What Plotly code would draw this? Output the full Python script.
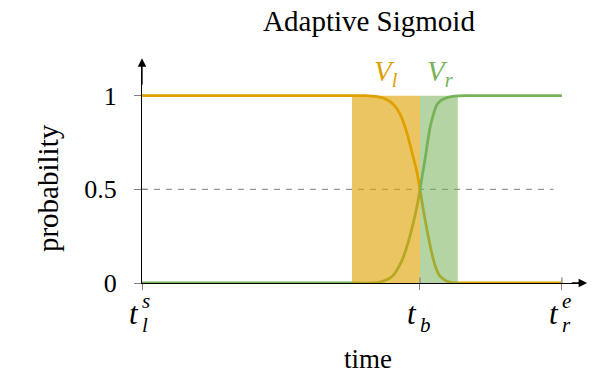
import plotly.graph_objects as go

# Time axis in arbitrary units: t_l^s = 0, t_b = 6.62, t_r^e = 10
t_start = 0.0
t_boundary = 6.62
t_end = 10.0
left_region_start = 5.0
right_region_end = 7.52

# V_l: falls from 1 to 0 across the boundary
left_t = [0.0, 4.7, 5.0, 5.3, 5.6, 5.83, 6.0, 6.15, 6.31, 6.45, 6.55, 6.62,
          6.7, 6.79, 6.9, 7.0, 7.1, 7.25, 7.4, 7.6, 10.0]
left_p = [1.0, 1.0, 1.0, 1.0, 0.995, 0.98, 0.95, 0.90, 0.80, 0.68, 0.59, 0.5,
          0.39, 0.28, 0.16, 0.08, 0.035, 0.01, 0.002, 0.0, 0.0]

# V_r: rises from 0 to 1 across the boundary
right_t = [0.0, 5.0, 5.5, 5.67, 5.85, 5.98, 6.1, 6.21, 6.33, 6.45, 6.55, 6.62,
           6.68, 6.74, 6.8, 6.86, 6.94, 7.02, 7.12, 7.26, 7.45, 7.7, 10.0]
right_p = [0.0, 0.0, 0.0, 0.005, 0.02, 0.04, 0.08, 0.13, 0.21, 0.31, 0.41, 0.5,
           0.58, 0.66, 0.75, 0.83, 0.90, 0.95, 0.975, 0.99, 0.998, 1.0, 1.0]

y_ticks = [0, 0.5, 1]
y_tick_text = ["0", "0.5", "1"]

ORANGE = "rgb(222,161,0)"
GREEN = "rgb(118,178,88)"
ORANGE_FILL = "rgba(222,161,0,0.62)"
GREEN_FILL = "rgba(118,178,88,0.55)"
FONT = "Liberation Serif"
TICK_GREY = "rgb(130,130,130)"

fig = go.Figure()
fig.add_trace(go.Scatter(x=left_t, y=left_p, mode="lines",
                         line=dict(color=ORANGE, width=2.8, shape="spline", smoothing=0.4),
                         hoverinfo="skip", showlegend=False))
fig.add_trace(go.Scatter(x=right_t, y=right_p, mode="lines",
                         line=dict(color=GREEN, width=2.8, shape="spline", smoothing=0.4),
                         hoverinfo="skip", showlegend=False))

# shaded transition regions drawn over the curves
fig.add_shape(type="rect", xref="x", yref="y", x0=left_region_start, x1=t_boundary, y0=0, y1=1,
              fillcolor=ORANGE_FILL, line_width=0, layer="above")
fig.add_shape(type="rect", xref="x", yref="y", x0=t_boundary, x1=right_region_end, y0=0, y1=1,
              fillcolor=GREEN_FILL, line_width=0, layer="above")

# dashed 0.5 reference line
fig.add_shape(type="line", xref="x", yref="y", x0=t_start, x1=9.8, y0=0.5, y1=0.5,
              line=dict(color="rgb(150,150,150)", width=1.3, dash="6px,6px"), layer="below")

# inner half of the tick marks (ticks cross the axis lines)
for yv in y_ticks:
    fig.add_shape(type="line", xref="x", yref="y", x0=0, x1=0.12, y0=yv, y1=yv,
                  line=dict(color=TICK_GREY, width=1.2), layer="below")
for xv in [t_boundary, t_end]:
    fig.add_shape(type="line", xref="x", yref="y", x0=xv, x1=xv, y0=0, y1=0.03,
                  line=dict(color=TICK_GREY, width=1.2), layer="above")

# arrowheads on the axes
fig.add_annotation(x=10.6, y=0, ax=10.2, ay=0, xref="x", yref="y", axref="x", ayref="y",
                   showarrow=True, arrowhead=2, arrowsize=1.3, arrowwidth=1.3, arrowcolor="black", text="")
fig.add_annotation(x=0, y=1.2, ax=0, ay=1.05, xref="x", yref="y", axref="x", ayref="y",
                   showarrow=True, arrowhead=2, arrowsize=1.3, arrowwidth=1.3, arrowcolor="black", text="")


def time_label(x, sup, sub):
    fig.add_annotation(x=x, y=-0.136, xref="x", yref="paper", showarrow=False,
                       text="<i>t</i>", xanchor="right", yanchor="middle", xshift=-1,
                       font=dict(family=FONT, size=31, color="black"))
    if sup:
        fig.add_annotation(x=x, y=-0.08, xref="x", yref="paper", showarrow=False,
                           text=f"<i>{sup}</i>", xanchor="left", yanchor="middle", xshift=-2,
                           font=dict(family=FONT, size=21, color="black"))
    if sub:
        fig.add_annotation(x=x, y=-0.19, xref="x", yref="paper", showarrow=False,
                           text=f"<i>{sub}</i>", xanchor="left", yanchor="middle", xshift=-2,
                           font=dict(family=FONT, size=21, color="black"))


time_label(t_start, "s", "l")
time_label(t_boundary, None, "b")
time_label(t_end, "e", "r")

# curve labels
fig.add_annotation(x=5.8, y=1.12, xref="x", yref="y", showarrow=False,
                   text="<i>V</i><sub><i>l</i></sub>",
                   font=dict(family=FONT, size=29, color=ORANGE))
fig.add_annotation(x=7.1, y=1.12, xref="x", yref="y", showarrow=False,
                   text="<i>V</i><sub><i>r</i></sub>",
                   font=dict(family=FONT, size=29, color=GREEN))

# axis titles
fig.add_annotation(x=-0.212, y=0.43, xref="paper", yref="paper", showarrow=False,
                   text="probability", textangle=-90, xanchor="center", yanchor="middle",
                   font=dict(family=FONT, size=29, color="black"))
fig.add_annotation(x=0.51, y=-0.345, xref="paper", yref="paper", showarrow=False,
                   text="time", xanchor="center", yanchor="middle",
                   font=dict(family=FONT, size=27, color="black"))

fig.update_layout(
    width=600, height=377,
    margin=dict(l=142, r=15, t=62, b=94),
    paper_bgcolor="white", plot_bgcolor="white",
    font=dict(family=FONT, color="black"),
    title=dict(text="Adaptive Sigmoid", x=0.615, xanchor="center", y=0.945, yanchor="middle",
               font=dict(family=FONT, size=29, color="black")),
    xaxis=dict(range=[0, 10.55], showgrid=False, zeroline=False,
               showline=True, linecolor="black", linewidth=1.3,
               tickvals=[t_start, t_boundary, t_end], ticktext=["", "", ""],
               ticks="outside", ticklen=6, tickcolor=TICK_GREY, tickwidth=1.2),
    yaxis=dict(range=[0, 1.18], showgrid=False, zeroline=False,
               showline=True, linecolor="black", linewidth=1.3,
               tickvals=y_ticks, ticktext=y_tick_text,
               ticks="outside", ticklen=7, tickcolor=TICK_GREY, tickwidth=1.2,
               ticklabelstandoff=12,
               tickfont=dict(family=FONT, size=26, color="black")),
)

fig.write_html("out.html")
